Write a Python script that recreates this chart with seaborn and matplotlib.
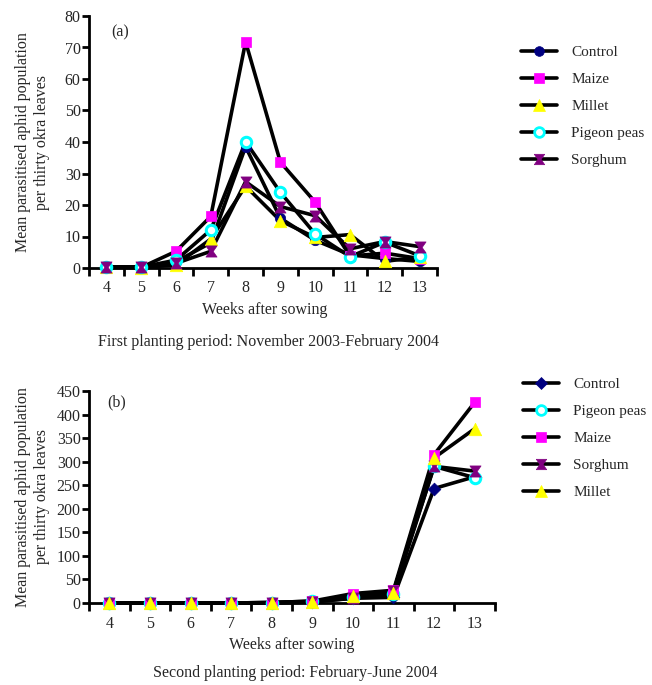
import numpy as np
import pandas as pd
import seaborn as sns
import matplotlib
matplotlib.use("Agg")
import matplotlib.pyplot as plt
from matplotlib.path import Path
from matplotlib.lines import Line2D

# ---------------- data ----------------
weeks = [4, 5, 6, 7, 8, 9, 10, 11, 12, 13]

# Panel (a): first planting period
control_a = [0.3, 0.2, 2.0, 8.0, 38.5, 15.8, 8.8, 4.2, 3.0, 2.1]
maize_a = [0.3, 0.2, 5.3, 16.4, 71.8, 33.6, 20.9, 3.8, 4.7, 3.0]
millet_a = [0.2, 0.1, 1.0, 9.2, 26.0, 15.0, 9.7, 10.6, 2.1, 3.5]
pigeon_a = [0.4, 0.3, 2.5, 12.1, 40.1, 24.0, 10.8, 3.6, 8.2, 3.9]
sorghum_a = [0.3, 0.2, 1.5, 5.3, 27.4, 19.5, 16.6, 6.1, 8.4, 6.8]

# Panel (b): second planting period
control_b = [0, 0, 0, 0, 0, 2, 10, 12, 243, 268]
pigeon_b = [0, 0, 0, 0, 1, 4, 12, 20, 290, 266]
maize_b = [0, 0, 0, 0, 1, 4, 20, 27, 315, 426]
sorghum_b = [0, 0, 0, 0, 1, 3, 10, 25, 290, 280]
millet_b = [0, 0, 0, 0, 0.5, 2, 15, 22, 308, 370]

labels_a = ["Control", "Maize", "Millet", "Pigeon peas", "Sorghum"]
labels_b = ["Control", "Pigeon peas", "Maize", "Sorghum", "Millet"]

# ---------------- styles ----------------
hourglass = Path([(-1, 1), (1, 1), (0.3, 0), (1, -1), (-1, -1), (-0.3, 0), (-1, 1)],
                 [Path.MOVETO, Path.LINETO, Path.LINETO, Path.LINETO, Path.LINETO,
                  Path.LINETO, Path.CLOSEPOLY])

style_a = {
    "Control": dict(marker="o", face="#000080", edge="#000080", ms=7.5),
    "Maize": dict(marker="s", face="#FF00FF", edge="#FF00FF", ms=7.5),
    "Millet": dict(marker="^", face="#FFFF00", edge="#FFFF00", ms=9),
    "Pigeon peas": dict(marker="o", face="white", edge="#00FFFF", ms=7.5),
    "Sorghum": dict(marker=hourglass, face="#800080", edge="#800080", ms=8),
}
style_b = dict(style_a)
style_b["Control"] = dict(marker="D", face="#000080", edge="#000080", ms=6.5)

FS = 11.5
LFS = 11
sns.set_style("white")
plt.rcParams["font.family"] = ["Liberation Serif", "DejaVu Serif"]

fig = plt.figure(figsize=(6.52, 6.85), dpi=100)
W, H = 652, 685


def add_ax(l, r, t, b):
    return fig.add_axes([l / W, 1 - b / H, (r - l) / W, (b - t) / H])


def draw_panel(ax, series, labels, styles, ymax, ystep):
    pos = np.arange(len(weeks))
    rows = []
    for lab in labels:
        for p, w, v in zip(pos, weeks, series[lab]):
            rows.append(dict(pos=p, week=w, value=v, treatment=lab))
    df = pd.DataFrame(rows)
    sns.lineplot(data=df, x="pos", y="value", hue="treatment", hue_order=labels,
                 palette={l: "black" for l in labels}, lw=2.6, legend=False,
                 ax=ax, zorder=2, clip_on=False)
    for lab in labels:
        st = styles[lab]
        sub = df[df.treatment == lab]
        sns.scatterplot(data=sub, x="pos", y="value", marker=st["marker"],
                        color=st["face"], edgecolor=st["edge"],
                        linewidth=2.2 if lab == "Pigeon peas" else 0.5,
                        s=st["ms"] ** 2, ax=ax, zorder=3, clip_on=False,
                        legend=False)
    ax.set_xlim(-0.5, len(weeks) - 0.5)
    ax.set_ylim(0, ymax)
    ax.set_xticks(np.arange(-0.5, len(weeks), 1.0))
    ax.set_xticklabels([])
    ax.set_xticks(pos, minor=True)
    ax.set_xticklabels([str(w) for w in weeks], minor=True)
    ax.set_yticks(np.arange(0, ymax + 1, ystep))
    ax.tick_params(axis="x", which="major", direction="out", length=6, width=2,
                   bottom=True, color="black")
    ax.tick_params(axis="x", which="minor", length=0, pad=9, labelsize=FS)
    ax.tick_params(axis="y", direction="out", length=5, width=2, left=True,
                   pad=1, labelsize=FS, color="black")
    for s in ["top", "right"]:
        ax.spines[s].set_visible(False)
    for s in ["left", "bottom"]:
        ax.spines[s].set_linewidth(2)
        ax.spines[s].set_color("black")
    ax.set_ylabel("Mean parasitised aphid population\nper thirty okra leaves",
                  fontsize=FS, linespacing=1.25)
    ax.set_xlabel("Weeks after sowing", fontsize=FS)
    ax.grid(False)


def make_legend(labels, styles, x, y):
    handles = []
    for lab in labels:
        st = styles[lab]
        handles.append(Line2D([0], [0], color="black", lw=2.6, marker=st["marker"],
                              markerfacecolor=st["face"], markeredgecolor=st["edge"],
                              markeredgewidth=2 if lab == "Pigeon peas" else 0.5,
                              markersize=st["ms"] - 0.5))
    fig.legend(handles, labels, loc="upper left", bbox_to_anchor=(x / W, 1 - y / H),
               frameon=False, fontsize=LFS, handlelength=2.4, labelspacing=0.87,
               handletextpad=0.9, borderpad=0.2)


# ---------------- panel (a) ----------------
ax1 = add_ax(89, 437, 16, 268)
series_a = {"Control": control_a, "Maize": maize_a, "Millet": millet_a,
            "Pigeon peas": pigeon_a, "Sorghum": sorghum_a}
draw_panel(ax1, series_a, labels_a, style_a, 80, 10)
ax1.yaxis.set_label_coords(-0.112, 0.5)
ax1.xaxis.set_label_coords((265 - 89) / 348, -0.135)
ax1.text(0.065, 0.935, "(a)", transform=ax1.transAxes, fontsize=FS, va="center")
make_legend(labels_a, style_a, 510, 35)
fig.text(268 / W, 1 - 342 / H, "First planting period: November 2003-February 2004",
         ha="center", va="center", fontsize=FS)

# ---------------- panel (b) ----------------
ax2 = add_ax(89, 495, 391, 603)
series_b = {"Control": control_b, "Pigeon peas": pigeon_b, "Maize": maize_b,
            "Sorghum": sorghum_b, "Millet": millet_b}
draw_panel(ax2, series_b, labels_b, style_b, 450, 50)
ax2.yaxis.set_label_coords(-0.096, 0.5)
ax2.xaxis.set_label_coords(0.5, -0.16)
ax2.text(0.045, 0.948, "(b)", transform=ax2.transAxes, fontsize=FS, va="center")
make_legend(labels_b, style_b, 512, 367)
fig.text(295 / W, 1 - 673 / H, "Second planting period: February-June 2004",
         ha="center", va="center", fontsize=FS)

fig.savefig("out.png", dpi=100, facecolor="white")
